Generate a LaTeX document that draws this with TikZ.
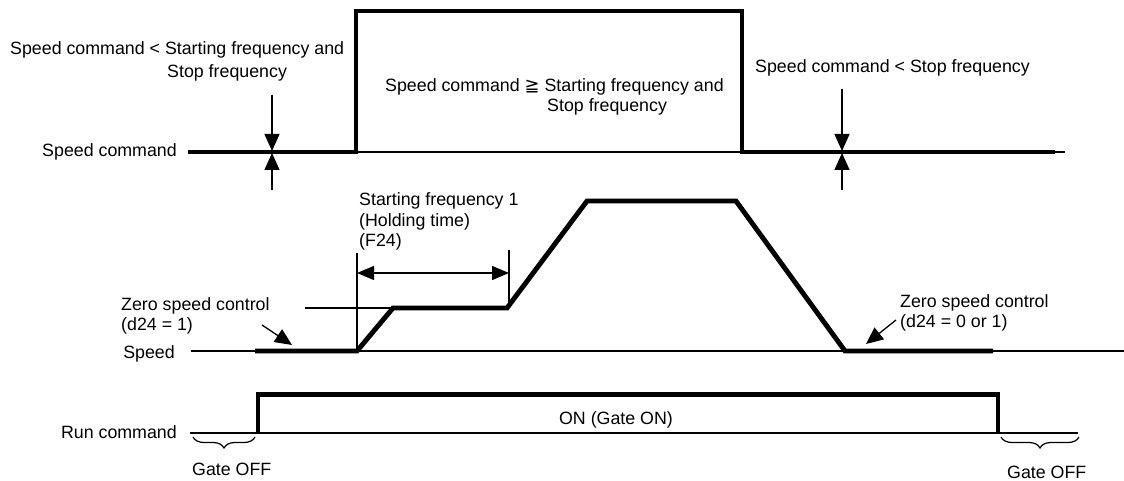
\documentclass[tikz,border=0pt]{standalone}
\usepackage{fontspec}
\setmainfont{Liberation Sans}
\newfontfamily\dejavu{DejaVu Sans}
\usetikzlibrary{arrows.meta,decorations.pathreplacing}
\begin{document}
\begin{tikzpicture}[x=1pt,y=-1pt,
  sigthick/.style={line width=4.9pt,line join=miter,line cap=butt},
  sigthin/.style={line width=1.2pt},
  lbl/.style={font=\fontsize{17.8}{20}\selectfont,inner sep=0pt},
  tri/.style={line width=1.3pt,-{Triangle[length=17pt,width=15pt]}},
  dtri/.style={line width=1.3pt,{Triangle[length=17pt,width=14pt]}-{Triangle[length=17pt,width=14pt]}},
  gbrace/.style={decorate,decoration={brace,amplitude=11pt,mirror},line width=1.2pt}]
\useasboundingbox[fill=white] (0,0) rectangle (1124,481);
% ---------- Speed command ----------
\coordinate (sc0) at (188,152);
\coordinate (sc1) at (356,152);
\coordinate (sc2) at (356,11);
\coordinate (sc3) at (742,11);
\coordinate (sc4) at (742,152);
\coordinate (sc5) at (1055,152);
\coordinate (sc6) at (1065,152);
\draw[sigthin] (sc1) -- (sc6);
\draw[sigthick] (sc0) -- (sc1) -- (sc2) -- (sc3) -- (sc4) -- (sc5);
\node[lbl,anchor=base east] (lsc) at (177,157) {Speed command};
\node[lbl,anchor=base west] (t1a) at (10,55) {Speed command < Starting frequency and};
\node[lbl,anchor=base west] (t1b) at (167,78) {Stop frequency};
\node[lbl,anchor=base west] (t2a) at (385,92) {Speed command {\dejavu ≧} Starting frequency and};
\node[lbl,anchor=base west] (t2b) at (547,112) {Stop frequency};
\node[lbl,anchor=base west] (t3) at (755,73) {Speed command < Stop frequency};
% arrows on speed command
\coordinate (a1s) at (272,95);
\coordinate (a1e) at (272,151);
\coordinate (a2s) at (272,190);
\coordinate (a2e) at (272,153);
\coordinate (a3s) at (842,89);
\coordinate (a3e) at (842,151);
\coordinate (a4s) at (842,190);
\coordinate (a4e) at (842,153);
\draw[tri] (a1s) -- (a1e);
\draw[tri] (a2s) -- (a2e);
\draw[tri] (a3s) -- (a3e);
\draw[tri] (a4s) -- (a4e);
% ---------- Speed ----------
\coordinate (sp0) at (191,351);
\coordinate (sp9) at (1124,351);
\draw[sigthin] (sp0) -- (sp9);
\coordinate (s1) at (255,351);
\coordinate (s2) at (357,351);
\coordinate (s3) at (393,308);
\coordinate (s4) at (507,308);
\coordinate (s5) at (587,201);
\coordinate (s6) at (736,201);
\coordinate (s7) at (845,351);
\coordinate (s8) at (993,351);
\coordinate (lv0) at (305,308);
\draw[sigthin] (lv0) -- (s3);
\draw[sigthick] (s1) -- (s2) -- (s3) -- (s4) -- (s5) -- (s6) -- (s7) -- (s8);
\coordinate (m1t) at (357,253);
\coordinate (m2t) at (509,250);
\coordinate (m2b) at (509,306);
\draw[sigthin] (m1t) -- (s2);
\draw[sigthin] (m2t) -- (m2b);
\coordinate (h1) at (357,273);
\coordinate (h2) at (509,273);
\draw[dtri] (h1) -- (h2);
\node[lbl,anchor=base west] (f1) at (359,206) {Starting frequency 1};
\node[lbl,anchor=base west] (f2) at (359,226) {(Holding time)};
\node[lbl,anchor=base west] (f3) at (359,246) {(F24)};
\node[lbl,anchor=base west] (z1a) at (121,310) {Zero speed control};
\node[lbl,anchor=base west] (z1b) at (121,330) {(d24 = 1)};
\node[lbl,anchor=base west] (z2a) at (900,307) {Zero speed control};
\node[lbl,anchor=base west] (z2b) at (900,327) {(d24 = 0 or 1)};
\coordinate (za1) at (262,325);
\coordinate (za2) at (292,345);
\coordinate (zb1) at (896,320);
\coordinate (zb2) at (866,344);
\draw[tri] (za1) -- (za2);
\draw[tri] (zb1) -- (zb2);
\node[lbl,anchor=base east] (lsp) at (175,358) {Speed};
% ---------- Run command ----------
\coordinate (r0) at (190,433);
\coordinate (r9) at (1078,433);
\draw[sigthin] (r0) -- (r9);
\coordinate (r1) at (258,433);
\coordinate (r2) at (258,394.5);
\coordinate (r3) at (998,394.5);
\coordinate (r4) at (998,433);
\draw[sigthick] (r1) -- (r2) -- (r3) -- (r4);
\node[lbl,anchor=base east] (lrc) at (177,438) {Run command};
\node[lbl,anchor=base] (on) at (616,424) {ON (Gate ON)};
\coordinate (b1) at (193,437);
\coordinate (b2) at (255,437);
\coordinate (b3) at (1001,437);
\coordinate (b4) at (1079,437);
\draw[gbrace] (b1) -- (b2);
\draw[gbrace] (b3) -- (b4);
\node[lbl,anchor=base west] (g1) at (192,475) {Gate OFF};
\node[lbl,anchor=base west] (g2) at (1007,478) {Gate OFF};
\end{tikzpicture}
\end{document}
